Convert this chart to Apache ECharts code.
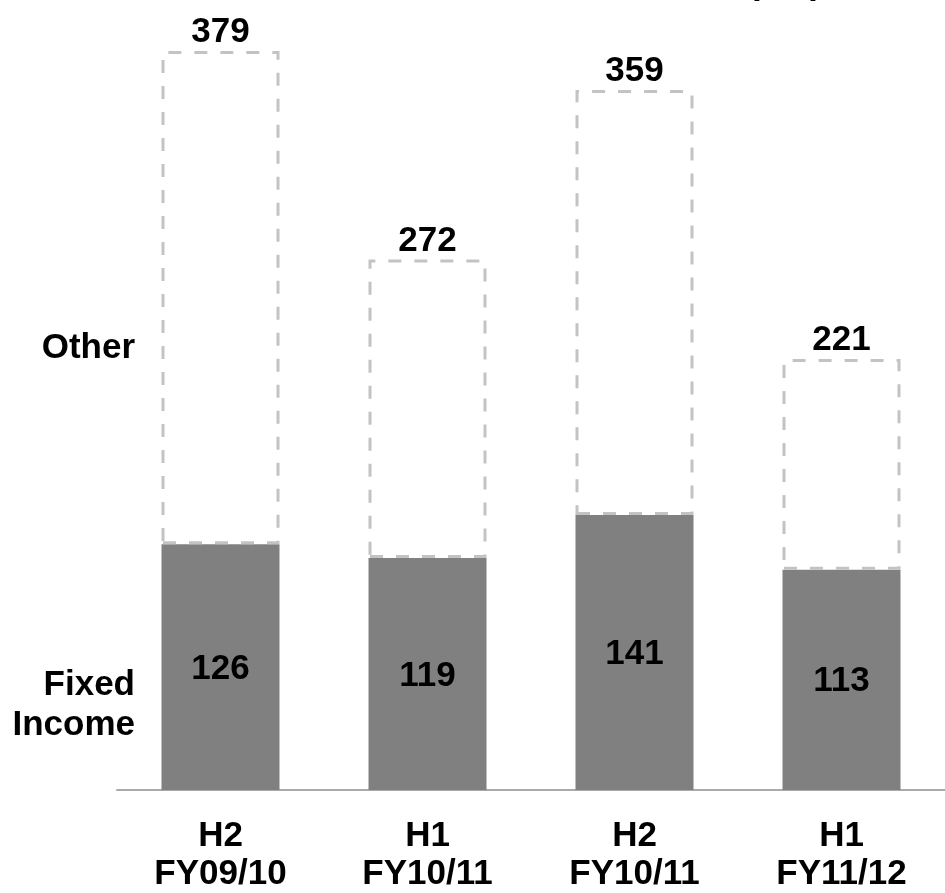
<!DOCTYPE html>
<html>
<head>
<meta charset="utf-8">
<script src="https://cdn.jsdelivr.net/npm/echarts@6/dist/echarts.min.js"></script>
<style>
  html, body { margin: 0; padding: 0; background: #ffffff; }
  #chart { width: 945px; height: 893px; }
</style>
</head>
<body>
<div id="chart"></div>
<script>
// Half-year periods
const categories = ['H2\nFY09/10', 'H1\nFY10/11', 'H2\nFY10/11', 'H1\nFY11/12'];
// Fixed Income revenue
const fixedIncome = [126, 119, 141, 113];
// Total revenue (Fixed Income + Other)
const totals = [379, 272, 359, 221];
// Other = total minus fixed income
const other = totals.map((t, i) => t - fixedIncome[i]);

const FONT = '"Liberation Sans", Arial, sans-serif';
const SIZE = 35;

const chart = echarts.init(document.getElementById('chart'), null, { renderer: 'canvas' });

chart.setOption({
  backgroundColor: '#ffffff',
  animation: false,
  grid: { left: 117, right: -4, top: 10, bottom: 103 },
  xAxis: {
    type: 'category',
    data: categories,
    axisLine: { show: true, lineStyle: { color: '#aaaaaa', width: 2 } },
    axisTick: { show: false },
    axisLabel: {
      color: '#000000',
      fontFamily: FONT,
      fontWeight: 'bold',
      fontSize: SIZE,
      lineHeight: 38,
      margin: 27
    }
  },
  yAxis: {
    type: 'value',
    min: 0,
    max: 400,
    show: false,
    splitLine: { show: false }
  },
  series: [
    {
      name: 'Fixed Income',
      type: 'bar',
      stack: 'rev',
      barWidth: 118,
      data: fixedIncome,
      itemStyle: { color: '#808080' },
      label: {
        show: true,
        position: 'inside',
        offset: [0, 2],
        color: '#000000',
        fontFamily: FONT,
        fontWeight: 'bold',
        fontSize: SIZE
      },
      z: 2
    },
    {
      name: 'Other',
      type: 'bar',
      stack: 'rev',
      barWidth: 118,
      data: other,
      itemStyle: {
        color: 'rgba(255,255,255,0)',
        borderColor: '#c3c3c3',
        borderWidth: 3,
        borderType: [13, 13]
      },
      label: {
        show: true,
        position: 'top',
        distance: 1,
        formatter: (p) => String(totals[p.dataIndex]),
        color: '#000000',
        fontFamily: FONT,
        fontWeight: 'bold',
        fontSize: SIZE
      },
      z: 3
    }
  ],
  graphic: [
    {
      type: 'text',
      x: 135,
      y: 348,
      style: {
        text: 'Other',
        fill: '#000000',
        font: 'bold ' + SIZE + 'px ' + FONT,
        textAlign: 'right',
        textVerticalAlign: 'middle'
      }
    },
    {
      type: 'text',
      x: 135,
      y: 705,
      style: {
        text: 'Fixed\nIncome',
        fill: '#000000',
        font: 'bold ' + SIZE + 'px ' + FONT,
        lineHeight: 40,
        textAlign: 'right',
        textVerticalAlign: 'middle'
      }
    },
    {
      type: 'text',
      x: 785,
      y: -16,
      style: {
        text: '(£m)',
        fill: '#000000',
        font: 'bold ' + SIZE + 'px ' + FONT,
        textAlign: 'center',
        textVerticalAlign: 'middle'
      }
    }
  ]
});
</script>
</body>
</html>
